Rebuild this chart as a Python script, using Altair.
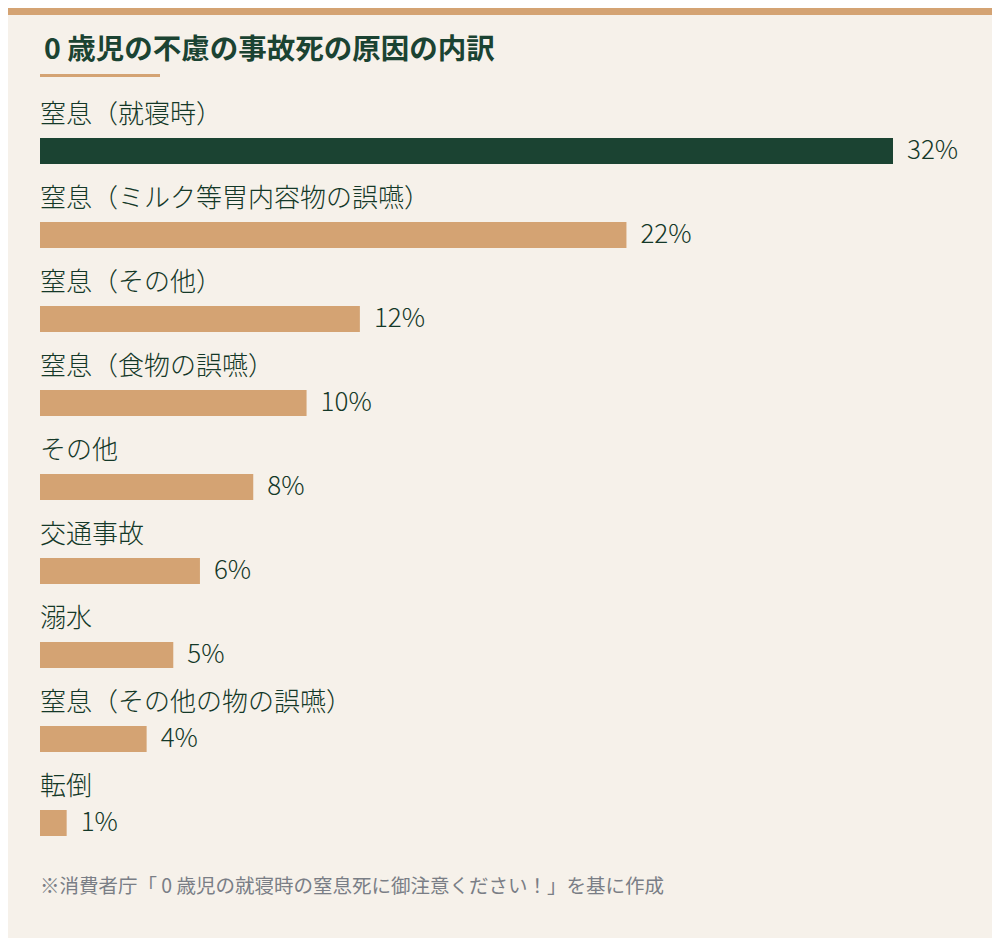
import altair as alt
import pandas as pd

categories = [
    "窒息（就寝時）",
    "窒息（ミルク等胃内容物の誤嚥）",
    "窒息（その他）",
    "窒息（食物の誤嚥）",
    "その他",
    "交通事故",
    "溺水",
    "窒息（その他の物の誤嚥）",
    "転倒",
]
values = [32, 22, 12, 10, 8, 6, 5, 4, 1]
highlight = [True, False, False, False, False, False, False, False, False]

title_text = "0 歳児の不慮の事故死の原因の内訳"
footnote_text = "※消費者庁「 0 歳児の就寝時の窒息死に御注意ください！」を基に作成"

BG = "#f6f1ea"
GREEN = "#1b4332"
TAN = "#d4a373"
FONT = "Noto Sans CJK JP"

df = pd.DataFrame({
    "category": categories,
    "value": values,
    "hl": ["yes" if h else "no" for h in highlight],
    "label": [f"{v}%" for v in values],
})

W = 853
H = 756

x = alt.X("value:Q", scale=alt.Scale(domain=[0, 32], nice=False, zero=True), axis=None)
y = alt.Y("category:N", sort=categories,
          scale=alt.Scale(paddingInner=0, paddingOuter=0), axis=None)

base = alt.Chart(df)

bars = base.mark_bar(height=26).encode(
    x=x, y=y,
    color=alt.Color("hl:N", scale=alt.Scale(domain=["yes", "no"], range=[GREEN, TAN]), legend=None),
)

cat_labels = base.mark_text(align="left", baseline="middle", dy=-36, fontSize=26,
                            font=FONT, fontWeight=300, color="#143828").encode(
    x=alt.value(0), y=y, text="category:N"
)

val_labels = base.mark_text(align="left", baseline="middle", dx=14, fontSize=26,
                            font=FONT, fontWeight=300, color="#143828").encode(
    x=x, y=y, text="label:N"
)

deco = pd.DataFrame({"d": [0]})
dchart = alt.Chart(deco)

stripe = dchart.mark_rect(color=TAN).encode(
    x=alt.value(-32), x2=alt.value(W + 99), y=alt.value(-101), y2=alt.value(-94)
)
underline = dchart.mark_rect(color=TAN).encode(
    x=alt.value(0), x2=alt.value(120), y=alt.value(-35), y2=alt.value(-32)
)
title = dchart.mark_text(align="left", baseline="middle", fontSize=28.5, fontWeight="bold",
                         font=FONT, color=GREEN, text=title_text).encode(
    x=alt.value(4), y=alt.value(-59)
)
footnote = dchart.mark_text(align="left", baseline="middle", fontSize=19.5,
                            font=FONT, color="#7a7e86", text=footnote_text).encode(
    x=alt.value(0), y=alt.value(778)
)

chart = alt.layer(stripe, underline, title, bars, cat_labels, val_labels, footnote).properties(
    width=W, height=H,
    autosize=alt.AutoSizeParams(type="none"),
    padding={"left": 32, "right": 99, "top": 101, "bottom": 73},
    background=BG,
).configure_view(stroke=None)

chart.save("out.html", embed_options={"renderer": "svg", "actions": False})
